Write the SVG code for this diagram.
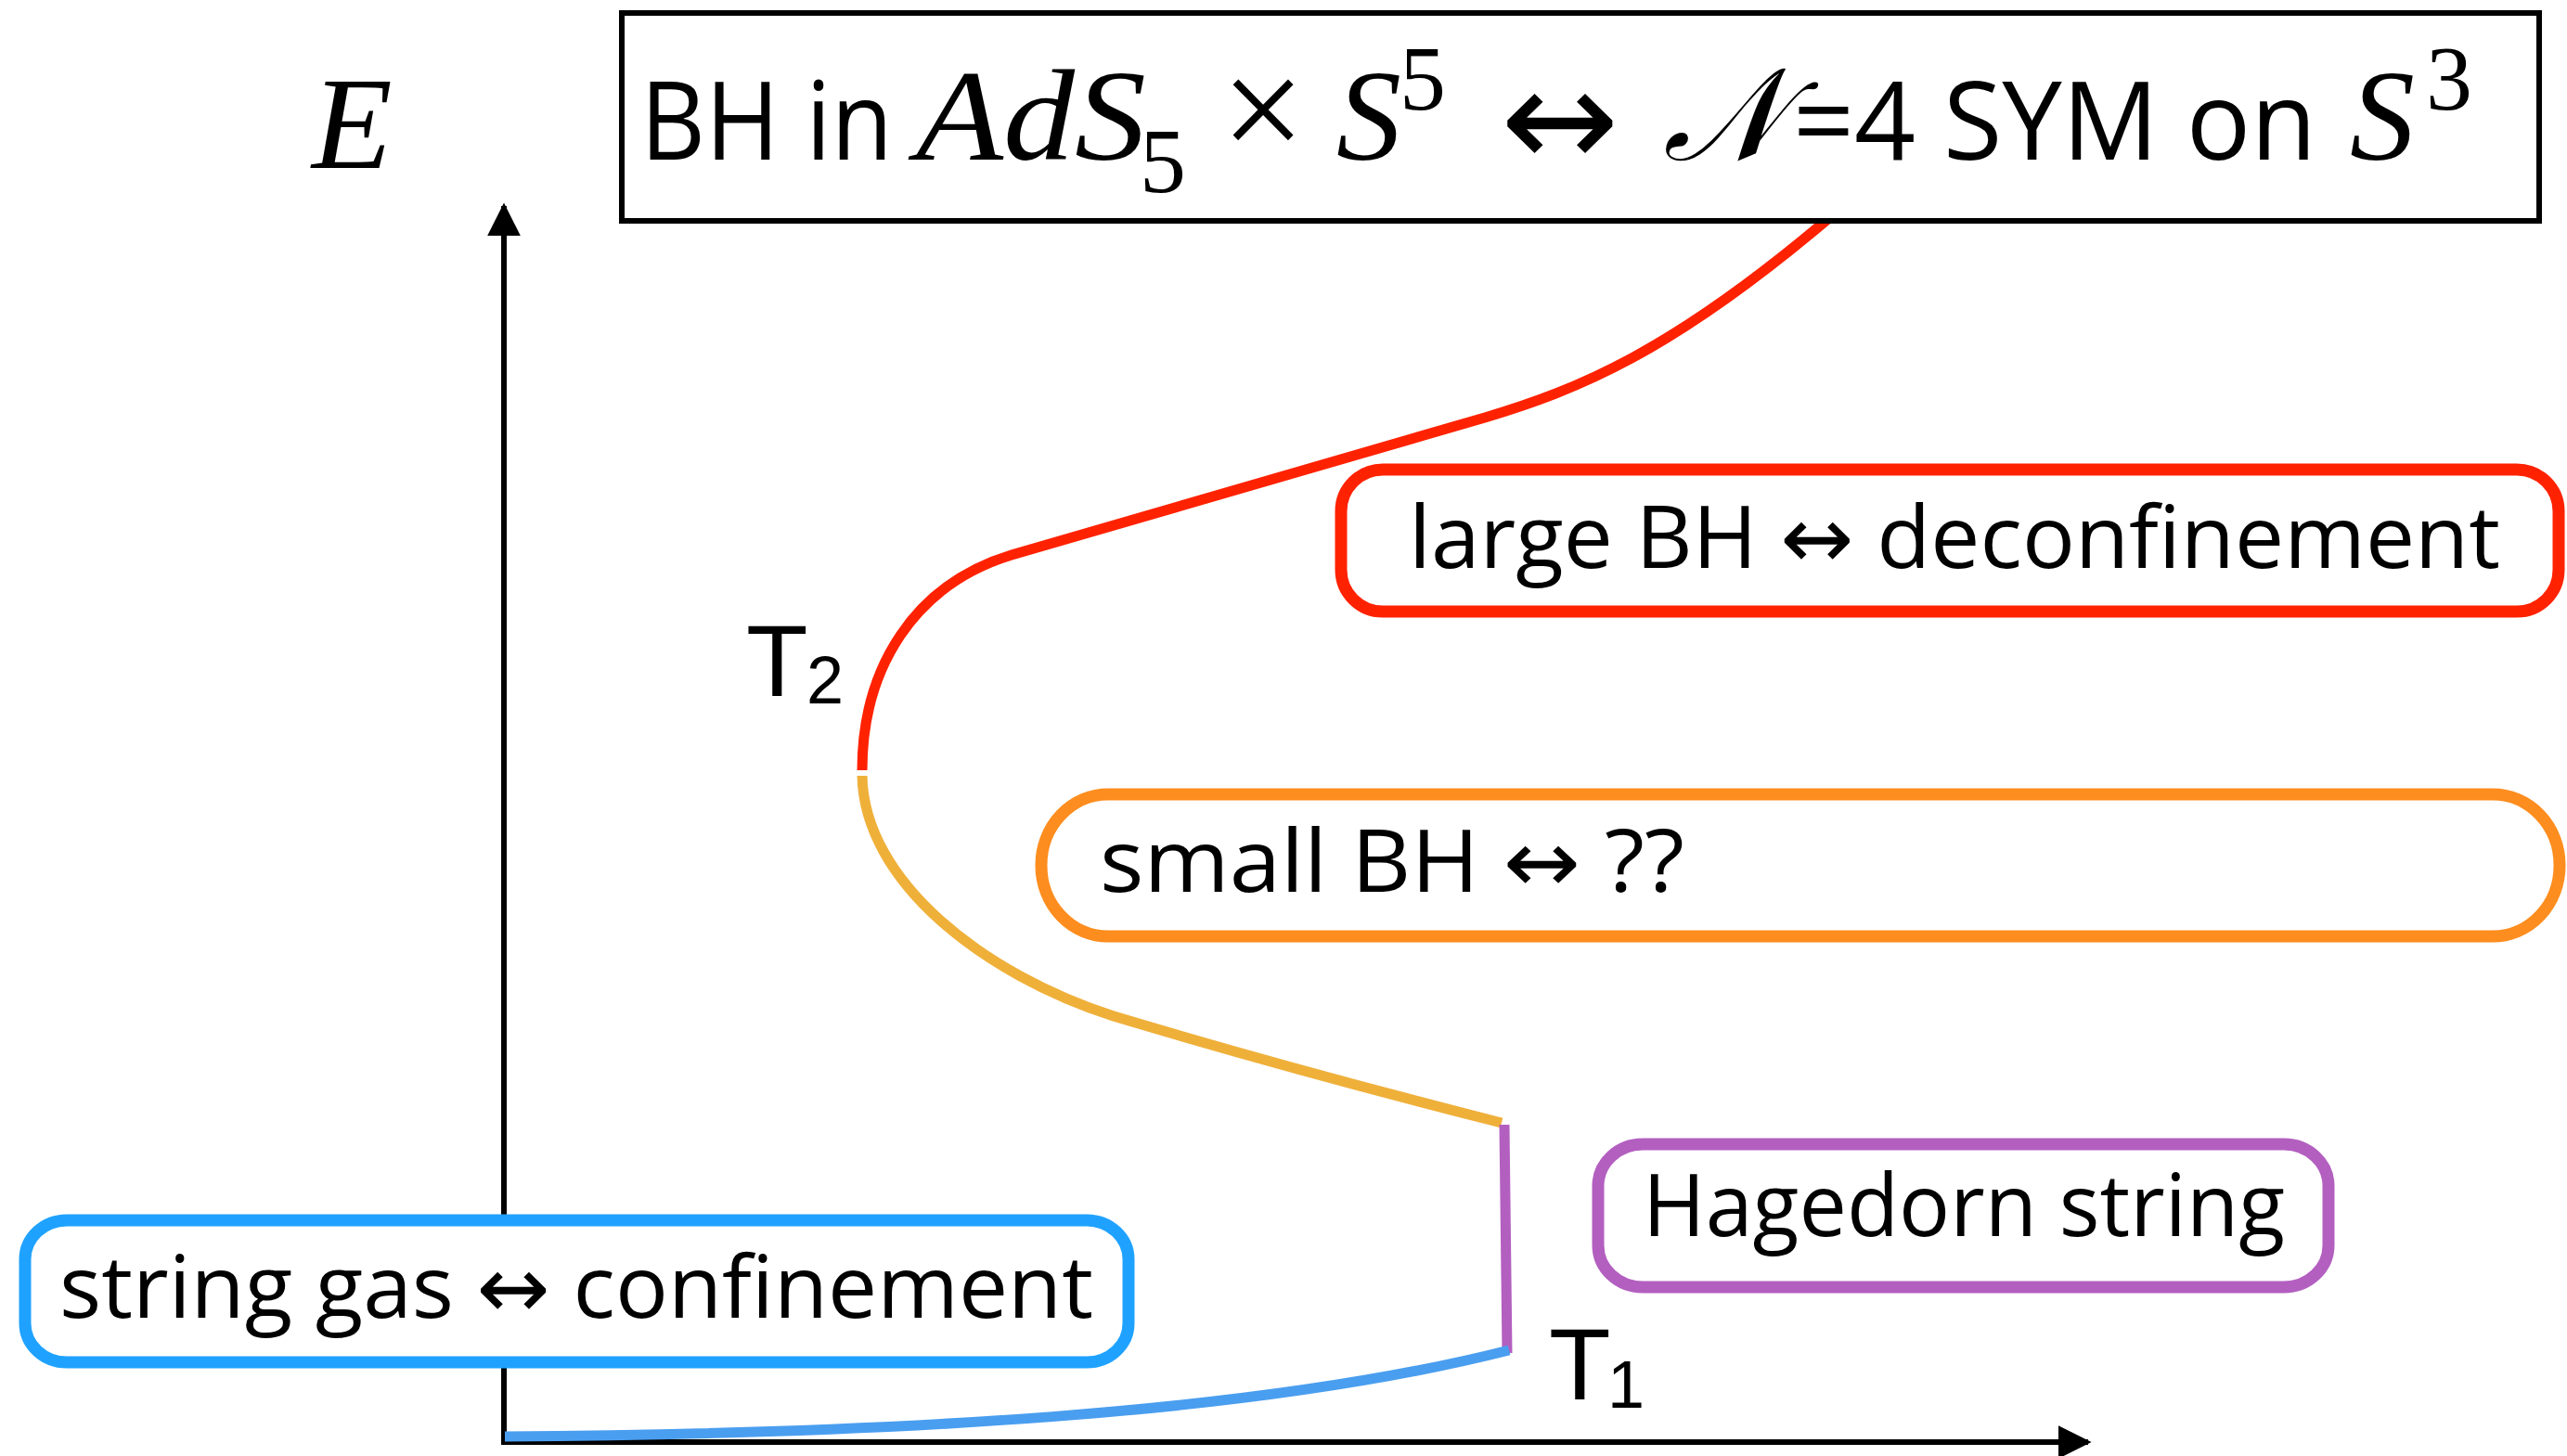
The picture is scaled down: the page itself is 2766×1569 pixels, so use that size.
<svg xmlns="http://www.w3.org/2000/svg" width="2766" height="1569" viewBox="0 0 2766 1569">
<style>
.sans{font-family:"Open Sans","Noto Sans","DejaVu Sans",sans-serif;fill:#000}
.ser{font-family:"Liberation Serif","DejaVu Serif",serif;fill:#000}
.it{font-style:italic}
.hv{font-family:"Liberation Sans",Arial,sans-serif;fill:#000}
.lbl{font-size:94px}
.box{fill:#fff;stroke-width:13}
.curve{fill:none;stroke-width:11;stroke-linecap:butt}
.axis{fill:none;stroke:#000;stroke-width:6}
</style>
<defs>
<marker id="ah" viewBox="0 0 10 10" refX="9" refY="5" markerWidth="6" markerHeight="6" markerUnits="strokeWidth" orient="auto">
<path d="M0,0 L10,5 L0,10 z" fill="#000"/>
</marker>
</defs>
<rect width="2766" height="1569" fill="#fff"/>

<g id="connectors">
<line class="axis" x1="543" y1="1557" x2="543" y2="222" marker-end="url(#ah)"/>
<line class="axis" x1="540" y1="1554" x2="2250" y2="1554" marker-end="url(#ah)"/>
<path class="curve" stroke="#FF2200" d="M929,830 C929,720 985,630 1090,598 L1600,450 C1700,420 1800,380 1972,234"/>
<path class="curve" stroke="#EFB03A" d="M929,836 C931,950 1060,1050 1200,1095 C1350,1140 1500,1180 1618,1210"/>
<path class="curve" stroke="#B35FC0" stroke-width="8" d="M1621,1212 L1624,1458"/>
<path class="curve" stroke="#4A9EEF" stroke-width="12" d="M544,1548 C950,1545 1350,1525 1626,1455"/>
</g>

<g id="axis-label-E">
<text class="ser it" x="336" y="181" font-size="142">E</text>
</g>

<g id="title">
<rect x="670" y="14" width="2066" height="224" fill="#fff" stroke="#000" stroke-width="6"/>
<text class="sans" x="690" y="172" font-size="117" textLength="272" lengthAdjust="spacingAndGlyphs">BH in</text>
<text class="ser it" x="987" y="172" font-size="140" textLength="248" lengthAdjust="spacingAndGlyphs">AdS</text>
<text class="ser" x="1228" y="207" font-size="100">5</text>
<text class="ser" x="1316" y="172" font-size="160" textLength="90" lengthAdjust="spacingAndGlyphs">×</text>
<text class="ser it" x="1440" y="172" font-size="140">S</text>
<text class="ser" x="1508" y="118" font-size="100">5</text>
<text x="1617" y="180" font-family="DejaVu Sans, sans-serif" font-size="150" textLength="128" lengthAdjust="spacingAndGlyphs">↔</text>
<text class="ser it" x="1792" y="172" font-size="140" textLength="130" lengthAdjust="spacingAndGlyphs">𝒩</text>
<text class="sans" x="1932" y="172" font-size="117" textLength="564" lengthAdjust="spacingAndGlyphs">=4 SYM on</text>
<text class="ser it" x="2532" y="172" font-size="140">S</text>
<text class="ser" x="2614" y="118" font-size="100">3</text>
</g>

<g id="T2">
<text class="hv" x="804" y="750" font-size="109">T</text>
<text class="hv" x="869" y="758" font-size="72">2</text>
</g>

<g id="T1">
<text class="hv" x="1669" y="1508" font-size="109">T</text>
<text class="hv" x="1732" y="1517" font-size="72">1</text>
</g>

<g id="large-bh">
<rect class="box" x="1445" y="506" width="1312" height="153" rx="45" ry="45" stroke="#FF2200"/>
<text class="sans lbl" x="1518" y="612" textLength="1176" lengthAdjust="spacingAndGlyphs">large BH ↔ deconfinement</text>
</g>

<g id="small-bh">
<rect class="box" x="1122" y="856" width="1636" height="153" rx="72" ry="76" stroke="#FD8D1E"/>
<text class="sans lbl" x="1185" y="961" textLength="630" lengthAdjust="spacingAndGlyphs">small BH ↔ ??</text>
</g>

<g id="hagedorn">
<rect class="box" x="1722" y="1233" width="787" height="154" rx="48" ry="45" stroke="#B35FC0"/>
<text class="sans lbl" x="1770" y="1332" textLength="692" lengthAdjust="spacingAndGlyphs">Hagedorn string</text>
</g>

<g id="string-gas">
<rect class="box" x="27" y="1315" width="1189" height="153" rx="45" ry="42" stroke="#1FA2FF"/>
<text class="sans lbl" x="64" y="1420" textLength="1114" lengthAdjust="spacingAndGlyphs">string gas ↔ confinement</text>
</g>
</svg>
